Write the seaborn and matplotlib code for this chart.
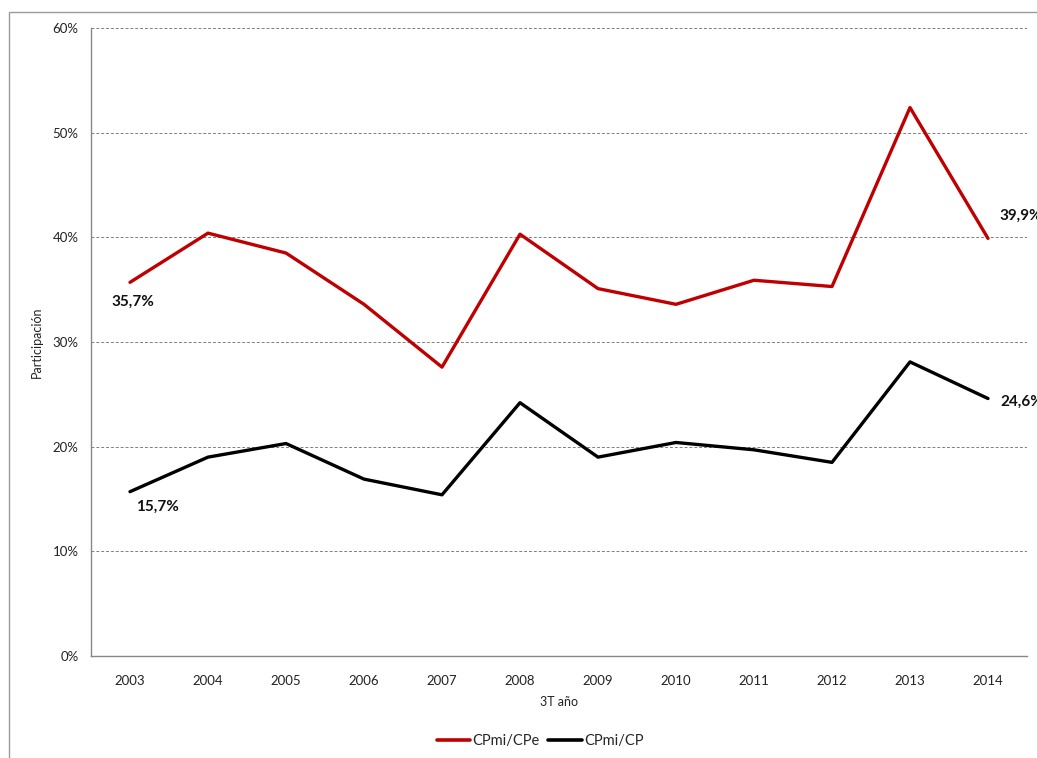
import matplotlib
matplotlib.use("Agg")
import matplotlib.pyplot as plt
import seaborn as sns
import pandas as pd
import numpy as np
from matplotlib.patches import Rectangle
from matplotlib.ticker import FuncFormatter, MultipleLocator, FixedLocator
from matplotlib.lines import Line2D

years = ["2003", "2004", "2005", "2006", "2007", "2008", "2009", "2010", "2011", "2012", "2013", "2014"]
cpmi_cpe = [35.7, 40.4, 38.5, 33.6, 27.6, 40.3, 35.1, 33.6, 35.9, 35.3, 52.4, 39.9]
cpmi_cp = [15.7, 19.0, 20.3, 16.9, 15.4, 24.2, 19.0, 20.4, 19.7, 18.5, 28.1, 24.6]
series_names = ["CPmi/CPe", "CPmi/CP"]
colors = ["#C00000", "#000000"]

sns.set_theme(style="white")
plt.rcParams['font.family'] = ['Lato', 'DejaVu Sans']

n = len(years)
df = pd.DataFrame({
    "idx": list(range(n)) * 2,
    "val": cpmi_cpe + cpmi_cp,
    "serie": [series_names[0]] * n + [series_names[1]] * n,
})

fig = plt.figure(figsize=(10.37, 7.58), dpi=100)
ax = fig.add_axes([91/1037, 1 - 656/758, (1027-91)/1037, (656-28)/758])

sns.lineplot(data=df, x="idx", y="val", hue="serie", palette=colors,
             linewidth=2.4, ax=ax, legend=False)

ax.set_xlim(-0.5, n - 0.5)
ax.set_ylim(0, 60)
ax.yaxis.set_major_locator(MultipleLocator(10))
ax.yaxis.set_major_formatter(FuncFormatter(lambda v, p: f"{int(v)}%"))
ax.xaxis.set_major_locator(FixedLocator(range(n)))
ax.set_xticklabels(years)
ax.xaxis.set_minor_locator(FixedLocator(np.arange(-0.5, n, 1.0)))

for y in range(10, 61, 10):
    ax.axhline(y, color="#808080", linestyle=(0, (3, 2)), linewidth=0.7, zorder=0)

for s in ["top", "right"]:
    ax.spines[s].set_visible(False)
for s in ["left", "bottom"]:
    ax.spines[s].set_color("#888888")
    ax.spines[s].set_linewidth(1.0)

ax.tick_params(axis="x", which="major", length=0, pad=14, labelsize=9.5, colors="#222222")
ax.tick_params(axis="x", which="minor", length=5, color="#888888", direction="out")
ax.tick_params(axis="y", length=5, color="#888888", direction="out", labelsize=9.5, labelcolor="#222222", pad=4)

ax.set_xlabel("3T año", fontsize=9, color="#222222", labelpad=6)
ax.set_ylabel("Participación", fontsize=9, color="#222222", labelpad=7)

def fmt(v):
    return f"{v:.1f}%".replace(".", ",")

lab_kw = dict(fontsize=11, fontweight="bold", color="#111111")
ax.annotate(fmt(cpmi_cpe[0]), (0, cpmi_cpe[0]), xytext=(2, -14), textcoords="offset points", ha="center", va="center", **lab_kw)
ax.annotate(fmt(cpmi_cp[0]), (0, cpmi_cp[0]), xytext=(20, -11), textcoords="offset points", ha="center", va="center", **lab_kw)
ax.annotate(fmt(cpmi_cpe[-1]), (n - 1, cpmi_cpe[-1]), xytext=(8, 16), textcoords="offset points", ha="left", va="center", annotation_clip=False, **lab_kw)
ax.annotate(fmt(cpmi_cp[-1]), (n - 1, cpmi_cp[-1]), xytext=(9, -2), textcoords="offset points", ha="left", va="center", annotation_clip=False, **lab_kw)

handles = [Line2D([], [], color=c, linewidth=2.6) for c in colors]
fig.legend(handles, series_names, loc="center", bbox_to_anchor=(540/1037, 1 - 741/758),
           ncol=2, frameon=False, fontsize=10.5, handlelength=2.3, handletextpad=0.15,
           columnspacing=0.6)

fig.patches.append(Rectangle((9/1037, -0.1), 1.2, 1 - 12/758 + 0.1, transform=fig.transFigure,
                             fill=False, edgecolor="#9a9a9a", linewidth=1.0))

fig.savefig("out.png", dpi=100)
